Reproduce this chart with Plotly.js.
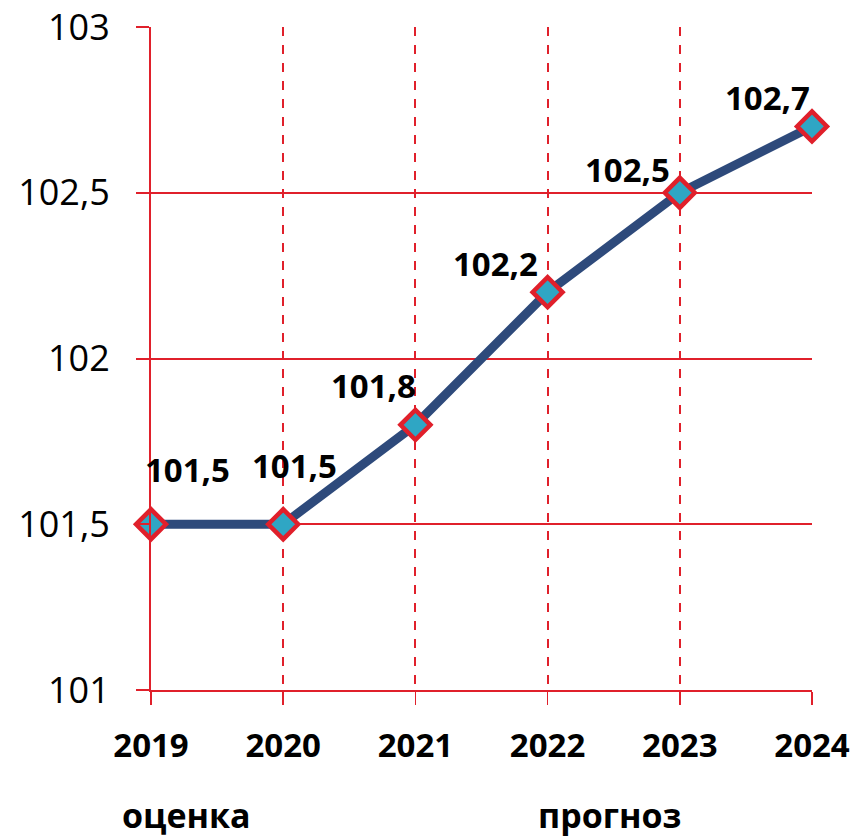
<!DOCTYPE html>
<html><head><meta charset="utf-8">
<script src="https://cdn.plot.ly/plotly-3.0.1.min.js"></script>
<style>body{margin:0;background:#fff}#chart{width:856px;height:838px}</style>
</head><body><div id="chart"></div>
<script>
const years = ["2019","2020","2021","2022","2023","2024"];
const values = [101.5, 101.5, 101.8, 102.2, 102.5, 102.7];
const valueLabels = ["101,5","101,5","101,8","102,2","102,5","102,7"];
const labelShiftX = [36, 11, -42, -52, -52, -45];
const labelShiftY = [55, 59, 39, 29, 23, 29];
const noteTexts = ["оценка", "прогноз"];
const noteX = [0.054, 0.694];

const RED = "#E0202B";
const trace = {
  x: years, y: values, type: "scatter", mode: "lines+markers",
  line: {color: "#2E4A7B", width: 9},
  marker: {symbol: "diamond", size: 23, color: "#2FA6C4", line: {color: RED, width: 4.5}},
  hoverinfo: "skip", cliponaxis: false
};
const annotations = years.map((yr, i) => ({
  x: i, y: values[i], xref: "x", yref: "y", text: valueLabels[i], showarrow: false,
  xanchor: "center", yanchor: "middle",
  xshift: labelShiftX[i], yshift: labelShiftY[i],
  font: {family: "Open Sans", size: 33, color: "#000", weight: "bold"}
})).concat(noteTexts.map((t, i) => ({
  x: noteX[i], y: -0.189, xref: "paper", yref: "paper", text: t, showarrow: false,
  xanchor: "center", yanchor: "middle",
  font: {family: "Open Sans", size: 34, color: "#000", weight: "bold"}
})));
const layout = {
  width: 856, height: 838,
  margin: {l: 151, r: 44, t: 27, b: 148},
  separators: ", ",
  showlegend: false,
  paper_bgcolor: "#fff", plot_bgcolor: "#fff",
  xaxis: {
    type: "category", range: [0, 5],
    showgrid: true, gridcolor: RED, gridwidth: 2, griddash: "dash",
    showline: true, linecolor: RED, linewidth: 2,
    ticks: "outside", ticklen: 13, tickcolor: RED, tickwidth: 1.5,
    tickfont: {family: "Open Sans", size: 33, color: "#000", weight: "bold"},
    ticklabelstandoff: 12, zeroline: false, fixedrange: true
  },
  yaxis: {
    range: [101, 103], dtick: 0.5, tick0: 101,
    showgrid: true, gridcolor: RED, gridwidth: 2,
    showline: true, linecolor: RED, linewidth: 2,
    ticks: "outside", ticklen: 13, tickcolor: RED, tickwidth: 2,
    tickfont: {family: "Open Sans", size: 36, color: "#000"},
    ticklabelstandoff: 19, zeroline: false, fixedrange: true
  },
  annotations: annotations
};
Plotly.newPlot("chart", [trace], layout, {displayModeBar: false, staticPlot: true});
</script></body></html>
